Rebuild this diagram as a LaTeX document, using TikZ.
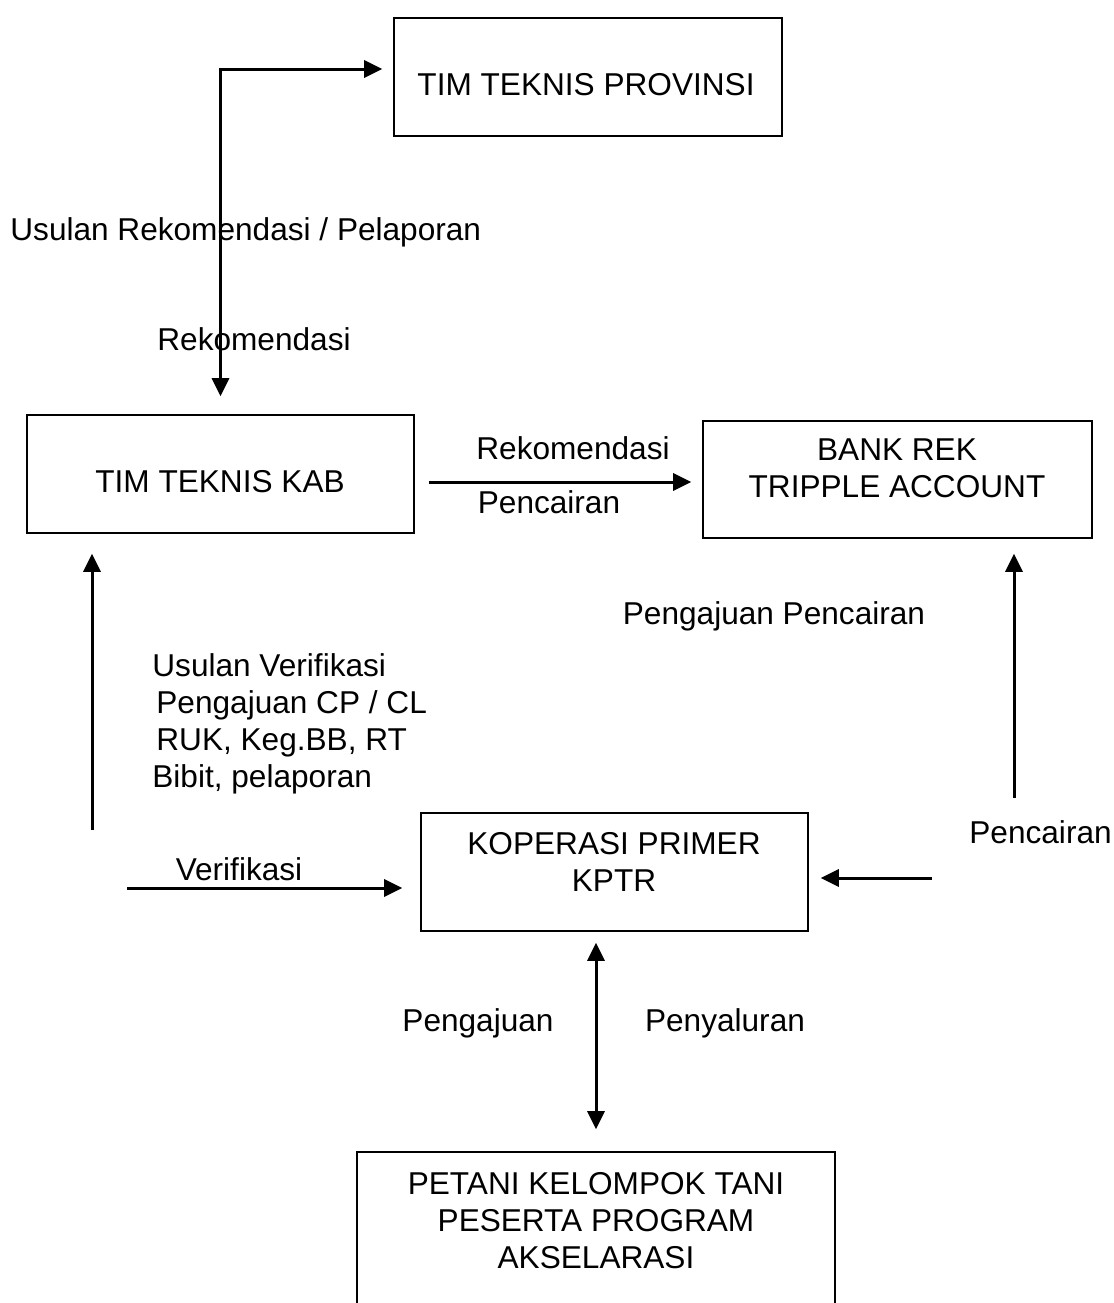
\documentclass[tikz,border=0pt]{standalone}
\usepackage{fontspec}
\setmainfont{Liberation Sans}
\usetikzlibrary{arrows.meta}

\begin{document}
\begin{tikzpicture}[x=0.5pt, y=-0.5pt,
                    kotak/.style={draw=black, line width=0.8pt},
                    panah/.style={draw=black, line width=1.5pt, >={Triangle[length=9pt,width=8.5pt]}}]
                    \tikzstyle{every node}+=[inner sep=0pt, font=\fontsize{15.8pt}{18.6pt}\selectfont]
                    \useasboundingbox (0,0) rectangle (1114,1303);
                    \clip (0,0) rectangle (1114,1303);
                    % kotak
                    \node [kotak, minimum width=194pt, minimum height=59pt] (prov) at (588,77) {};
                    \node [kotak, minimum width=193.5pt, minimum height=59pt] (kab) at (220.5,474) {};
                    \node [kotak, minimum width=194.5pt, minimum height=58.5pt] (bank) at (897.5,479.5) {};
                    \node [kotak, minimum width=193.5pt, minimum height=59pt] (kop) at (614.5,872) {};
                    \node [kotak, minimum width=239pt, minimum height=90pt] (petani) at (596,1242) {};
                    % teks kotak
                    \node [anchor=north] (provtxt) at (586,73) {TIM TEKNIS PROVINSI};
                    \node [anchor=north] (kabtxt) at (220,470) {TIM TEKNIS KAB};
                    \node [anchor=north, align=center] (banktxt) at (897,438) {BANK REK\\TRIPPLE ACCOUNT};
                    \node [anchor=north, align=center] (koptxt) at (614,832) {KOPERASI PRIMER\\KPTR};
                    \node [anchor=north, align=center] (petanitxt) at (596,1172) {PETANI KELOMPOK TANI\\PESERTA PROGRAM\\AKSELARASI};
                    % keterangan
                    \node [anchor=north west] (usulan) at (10,217) {Usulan Rekomendasi / Pelaporan};
                    \node [anchor=north west] (rekom) at (157,327) {Rekomendasi};
                    \node [anchor=north] (rekom2) at (573,436) {Rekomendasi};
                    \node [anchor=north] (cair1) at (549,490) {Pencairan};
                    \node [anchor=north] (ajucair) at (774,601) {Pengajuan Pencairan};
                    \node [anchor=north west, align=left] (verif) at (152,653) {Usulan Verifikasi\\\hspace*{2pt}Pengajuan CP / CL\\\hspace*{2pt}RUK, Keg.BB, RT\\Bibit, pelaporan};
                    \node [anchor=north west] (cair2) at (969,820) {Pencairan};
                    \node [anchor=north] (verif2) at (239,857) {Verifikasi};
                    \node [anchor=north] (aju) at (478,1008) {Pengajuan};
                    \node [anchor=north] (salur) at (725,1008) {Penyaluran};
                    % panah
                    \draw [panah, <->, shorten <=9pt, shorten >=5.5pt] (kab.north) |- ([yshift=4pt]prov.west);
                    \draw [panah, ->, shorten <=7pt, shorten >=5.5pt] ([yshift=-4pt]kab.east) -- ([yshift=-4pt]kab.east -| bank.west);
                    \coordinate (kiri) at (92,830);
                    \draw [panah, ->, shorten >=10pt] (kiri) -- (kiri |- kab.south);
                    \coordinate (kiribawah) at (127,888);
                    \draw [panah, ->, shorten >=9pt] (kiribawah) -- (kiribawah -| kop.west);
                    \coordinate (kanan) at (1014,798);
                    \draw [panah, ->, shorten >=7.5pt] (kanan) -- (kanan |- bank.south);
                    \coordinate (kananbawah) at (932,878);
                    \draw [panah, ->, shorten >=6pt] (kananbawah) -- (kananbawah -| kop.east);
                    \draw [panah, <->, shorten <=11pt, shorten >=5.5pt] (petani.north) -- (petani.north |- kop.south);
                    % \draw [black] (92,830) -- (92,553);
                \end{tikzpicture}
\end{document}
